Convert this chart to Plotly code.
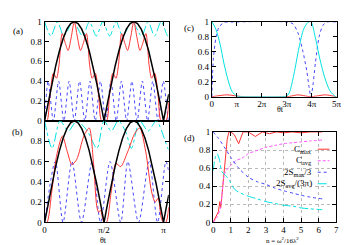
import plotly.graph_objects as go

# ---------------- panel (a) : x in units of pi ----------------
a_black_x = [0, 0.03125, 0.0625, 0.09375, 0.125, 0.15625, 0.1875, 0.21875, 0.25, 0.28125, 0.3125, 0.34375,
             0.375, 0.40625, 0.4375, 0.46875, 0.5, 0.53125, 0.5625, 0.59375, 0.625, 0.65625, 0.6875, 0.71875,
             0.75, 0.78125, 0.8125, 0.84375, 0.875, 0.90625, 0.9375, 0.96875, 1.0, 1.022, 1.044]
a_black_y = [0, 0.195, 0.383, 0.556, 0.707, 0.831, 0.924, 0.981, 1.0, 0.981, 0.924, 0.831,
             0.707, 0.556, 0.383, 0.195, 0, 0.195, 0.383, 0.556, 0.707, 0.831, 0.924, 0.981,
             1.0, 0.981, 0.924, 0.831, 0.707, 0.556, 0.383, 0.195, 0, 0.14, 0.27]

a_red_x = [0, 0.02, 0.045, 0.074, 0.1, 0.12, 0.148, 0.175, 0.198, 0.225, 0.25, 0.275, 0.302, 0.325, 0.352,
           0.38, 0.40, 0.426, 0.455, 0.48, 0.52, 0.545, 0.574, 0.6, 0.62, 0.648, 0.675, 0.698, 0.725, 0.75,
           0.775, 0.802, 0.825, 0.852, 0.88, 0.90, 0.926, 0.955, 0.98, 1.02, 1.044]
a_red_y = [0, 0, 0.25, 0.48, 0.43, 0.55, 0.88, 0.78, 0.71, 0.85, 1.0, 0.85, 0.71, 0.78, 0.88,
           0.55, 0.43, 0.48, 0.25, 0, 0, 0.25, 0.48, 0.43, 0.55, 0.88, 0.78, 0.71, 0.85, 1.0,
           0.85, 0.71, 0.78, 0.88, 0.55, 0.43, 0.48, 0.25, 0, 0, 0.2]

a_blue_x = [0, 0.03, 0.074, 0.118, 0.162, 0.206, 0.25, 0.294, 0.338, 0.382, 0.426, 0.47, 0.514, 0.558,
            0.602, 0.646, 0.69, 0.734, 0.778, 0.822, 0.866, 0.91, 0.954, 0.998, 1.042, 1.044]
a_blue_y = [0, 0.40, 0, 0.40, 0, 0.40, 0, 0.40, 0, 0.40, 0, 0.40, 0, 0.40,
            0, 0.40, 0, 0.40, 0, 0.40, 0, 0.40, 0, 0.40, 0, 0.0]

a_cyan_x = [0, 0.053, 0.108, 0.162, 0.24, 0.32, 0.377, 0.435, 0.49, 0.547, 0.602, 0.657, 0.736, 0.815,
            0.87, 0.925, 0.98, 1.035, 1.044]
a_cyan_y = [1.0, 0.855, 1.0, 0.855, 1.0, 0.855, 1.0, 0.855, 1.0, 0.855, 1.0, 0.855, 1.0, 0.855,
            1.0, 0.855, 1.0, 0.855, 0.86]

# ---------------- panel (b) ----------------
b_black_x = a_black_x
b_black_y = a_black_y

b_red_x = [0, 0.02, 0.06, 0.1, 0.15, 0.19, 0.23, 0.27, 0.33, 0.375, 0.41, 0.44, 0.455, 0.47, 0.49, 0.5,
           0.52, 0.56, 0.6, 0.64, 0.7, 0.76, 0.8, 0.85, 0.9, 0.93, 0.955, 0.98, 1.0, 1.02, 1.044]
b_red_y = [0, 0, 0.3, 0.65, 0.85, 0.7, 0.57, 0.62, 0.85, 0.93, 0.6, 0.15, 0.1, 0.12, 0.03, 0,
           0, 0.3, 0.58, 0.55, 0.7, 0.88, 0.93, 0.7, 0.3, 0.2, 0.24, 0.05, 0, 0, 0.15]

b_blue_x = [0, 0.09, 0.155, 0.23, 0.31, 0.4, 0.47, 0.55, 0.64, 0.7, 0.79, 0.88, 0.95, 1.02, 1.044]
b_blue_y = [0, 0.6, 0, 0.6, 0, 0.6, 0, 0.6, 0, 0.6, 0, 0.6, 0, 0.6, 0.5]

b_cyan_x = [0, 0.064, 0.13, 0.2, 0.27, 0.36, 0.44, 0.5, 0.56, 0.62, 0.68, 0.73, 0.8, 0.87, 0.94, 1.04, 1.044]
b_cyan_y = [1.0, 0.73, 1.0, 0.9, 1.0, 0.9, 0.73, 1.0, 0.9, 1.0, 0.9, 0.73, 1.0, 0.9, 1.0, 0.72, 0.72]

# ---------------- panel (c) : x in units of pi ----------------
c_cyan_x = [0, 0.16, 0.33, 0.48, 0.65, 0.81, 1.0, 1.3, 2.0, 2.8, 3.0, 3.1, 3.29, 3.49, 3.68, 3.85, 3.97,
            4.14, 4.33, 4.53, 4.73, 4.96, 5.0]
c_cyan_y = [1.0, 0.9, 0.7, 0.45, 0.22, 0.07, 0.01, 0, 0, 0, 0.01, 0.05, 0.3, 0.65, 0.9, 0.99, 1.0,
            0.8, 0.5, 0.25, 0.08, 0.0, 0.0]

c_blue_x = [0, 0.03, 0.06, 0.16, 0.29, 0.5, 0.8, 3.0, 3.25, 3.45, 3.65, 3.8, 3.9, 3.97, 4.05, 4.15, 4.3,
            4.45, 4.6, 5.0]
c_blue_y = [0, 0.3, 0.5, 0.78, 0.93, 0.99, 0.995, 0.995, 0.97, 0.85, 0.6, 0.35, 0.12, 0.0, 0.15, 0.45, 0.8,
            0.95, 0.995, 0.995]

c_red_x = [0, 0.2, 0.6, 1.0, 1.3, 3.0, 3.2, 3.45, 3.75, 3.95, 4.2, 4.55, 4.85, 5.0]
c_red_y = [0, 0.01, 0.025, 0.01, 0, 0, 0.01, 0.025, 0.01, 0, 0.01, 0.025, 0.01, 0]

# ---------------- panel (d) ----------------
d_cmax_x = [0, 0.1, 0.2, 0.3, 0.38, 0.43, 0.5, 0.6, 0.7, 0.8, 0.9, 1.0, 1.2, 1.45, 1.7, 2.0, 2.4, 2.8,
            3.2, 3.6, 4.0, 4.5, 5.0, 5.5, 6.0, 6.2]
d_cmax_y = [0, 0.04, 0.08, 0.12, 0.23, 0.16, 0.3, 0.5, 0.75, 0.92, 1.0, 1.0, 0.97, 0.87, 1.0, 1.0, 0.95,
            1.0, 0.98, 1.0, 0.99, 1.0, 0.99, 1.0, 1.0, 1.0]

d_cavg_x = [0, 0.2, 0.4, 0.5, 0.6, 0.7, 0.9, 1.27, 1.64, 2.0, 2.57, 3.0, 3.5, 4.0, 4.5, 5.0, 5.5, 6.2]
d_cavg_y = [0, 0.05, 0.15, 0.3, 0.5, 0.56, 0.61, 0.68, 0.71, 0.76, 0.8, 0.83, 0.85, 0.87, 0.88, 0.89, 0.9, 0.91]

d_smax_x = [0, 0.3, 0.71, 1.0, 1.45, 2.0, 2.5, 3.0, 3.5, 4.0, 4.6, 5.0, 5.5, 6.2]
d_smax_y = [1.0, 0.93, 0.81, 0.72, 0.6, 0.5, 0.45, 0.42, 0.38, 0.35, 0.32, 0.3, 0.28, 0.26]

d_savg_x = [0, 0.1, 0.22, 0.35, 0.5, 0.7, 0.9, 1.2, 1.5, 2.0, 2.5, 3.0, 3.5, 4.0, 4.5, 5.0, 5.5, 6.2]
d_savg_y = [0.57, 0.7, 0.76, 0.7, 0.56, 0.52, 0.47, 0.37, 0.33, 0.29, 0.26, 0.23, 0.21, 0.19, 0.18, 0.16,
            0.15, 0.14]

legend_labels = ["C<sub>max</sub>", "C<sub>avg</sub>", "2S<sub>max</sub>/3", "2S<sub>avg</sub>/(3π)"]

RED = "rgb(255,50,50)"
BLACK = "black"
BLUE = "rgb(70,70,255)"
CYAN = "rgb(0,225,225)"
MAG = "rgb(255,90,255)"

FONT = "Liberation Serif"
W, H = 349, 245

fig = go.Figure()


def add(x, y, color, dash, xa, ya, width=1.0, shape="spline"):
    fig.add_trace(go.Scatter(x=x, y=y, mode="lines", xaxis=xa, yaxis=ya, showlegend=False,
                             line=dict(color=color, dash=dash, width=width, shape=shape, smoothing=0.8)))


# (a)
add(a_cyan_x, a_cyan_y, CYAN, "dashdot", "x", "y")
add(a_blue_x, a_blue_y, BLUE, "dot", "x", "y")
add(a_red_x, a_red_y, RED, "solid", "x", "y")
add(a_black_x, a_black_y, BLACK, "solid", "x", "y", width=1.5, shape="linear")
# (b)
add(b_cyan_x, b_cyan_y, CYAN, "dashdot", "x2", "y2")
add(b_blue_x, b_blue_y, BLUE, "dot", "x2", "y2")
add(b_red_x, b_red_y, RED, "solid", "x2", "y2")
add(b_black_x, b_black_y, BLACK, "solid", "x2", "y2", width=1.5, shape="linear")
# (c)
add(c_red_x, c_red_y, RED, "solid", "x3", "y3")
add(c_blue_x, c_blue_y, BLUE, "dot", "x3", "y3")
add(c_cyan_x, c_cyan_y, CYAN, "solid", "x3", "y3")
# (d)
add(d_cmax_x, d_cmax_y, RED, "solid", "x4", "y4", shape="linear")
add(d_cavg_x, d_cavg_y, MAG, "3px,2px", "x4", "y4")
add(d_smax_x, d_smax_y, BLUE, "dot", "x4", "y4")
add(d_savg_x, d_savg_y, CYAN, "dashdot", "x4", "y4")


def px_x(p):
    return p / W


def px_y(p):
    return 1 - p / H


base = dict(showline=True, linecolor="black", linewidth=1, mirror="ticks", ticks="inside", ticklen=4,
            tickcolor="black", tickwidth=1, showgrid=False, zeroline=False,
            tickfont=dict(family=FONT, size=9, color="black"))

yt = [0, 0.2, 0.4, 0.6, 0.8, 1]
ytt = ["0", "0.2", "0.4", "0.6", "0.8", "1"]
GRID = dict(showgrid=True, gridcolor="rgb(185,185,185)", griddash="dot", gridwidth=0.8)

fig.update_layout(
    width=W, height=H, margin=dict(l=0, r=0, t=0, b=0),
    paper_bgcolor="white", plot_bgcolor="white", showlegend=False,
    xaxis=dict(base, domain=[px_x(35.3), px_x(162)], range=[0, 1.044], tickvals=[0, 0.5, 1],
               showticklabels=False, anchor="y"),
    yaxis=dict(base, domain=[px_y(112.5), px_y(9)], range=[0, 1], tickvals=yt, ticktext=ytt, anchor="x"),
    xaxis2=dict(base, domain=[px_x(35.3), px_x(162)], range=[0, 1.044], tickvals=[0, 0.5, 1],
                ticktext=["0", "π/2", "π"], anchor="y2", ticklabelstandoff=-1),
    yaxis2=dict(base, domain=[px_y(218.3), px_y(112.5)], range=[0, 1], tickvals=yt[:-1], ticktext=ytt[:-1],
                anchor="x2"),
    xaxis3=dict(base, domain=[px_x(206), px_x(333.3)], range=[0, 5], tickvals=[0, 1, 2, 3, 4, 5],
                ticktext=["0", "π", "2π", "3π", "4π", "5π"], anchor="y3", ticklabelstandoff=-2),
    yaxis3=dict(base, domain=[px_y(87.3), px_y(9)], range=[0, 1], tickvals=yt, ticktext=ytt, anchor="x3"),
    xaxis4=dict(base, domain=[px_x(207.3), px_x(333)], range=[0, 7], tickvals=[0, 1, 2, 3, 4, 5, 6, 7],
                anchor="y4", ticklabelstandoff=-1, **GRID),
    yaxis4=dict(base, domain=[px_y(218.3), px_y(124)], range=[0, 1], tickvals=yt, ticktext=ytt, anchor="x4",
                **GRID),
)

ann = []


def text(x, y, s, size=9, xanchor="center"):
    ann.append(dict(x=px_x(x), y=px_y(y), xref="paper", yref="paper", text=s, showarrow=False,
                    xanchor=xanchor, yanchor="middle", borderpad=0,
                    font=dict(family=FONT, size=size, color="black")))


text(8, 19, "(a)")
text(8, 124, "(b)")
text(183, 16, "(c)")
text(183, 130, "(d)")
text(95, 237.5, "θt", size=8)
text(276, 100.5, "θt", size=8)
text(278, 237.5, "n = ω<sup>2</sup>/16λ<sup>2</sup>", size=7)

leg_y = [142, 154, 166, 178]
leg_col = [RED, MAG, BLUE, CYAN]
leg_dash = ["solid", "3px,2px", "dot", "dashdot"]
shapes = []
for lab, yy, col, ds in zip(legend_labels, leg_y, leg_col, leg_dash):
    text(309, yy, lab, size=9, xanchor="right")
    shapes.append(dict(type="line", xref="paper", yref="paper", x0=px_x(314), x1=px_x(326),
                       y0=px_y(yy), y1=px_y(yy), line=dict(color=col, dash=ds, width=1)))

fig.update_layout(annotations=ann, shapes=shapes)
fig.write_html("out.html")
